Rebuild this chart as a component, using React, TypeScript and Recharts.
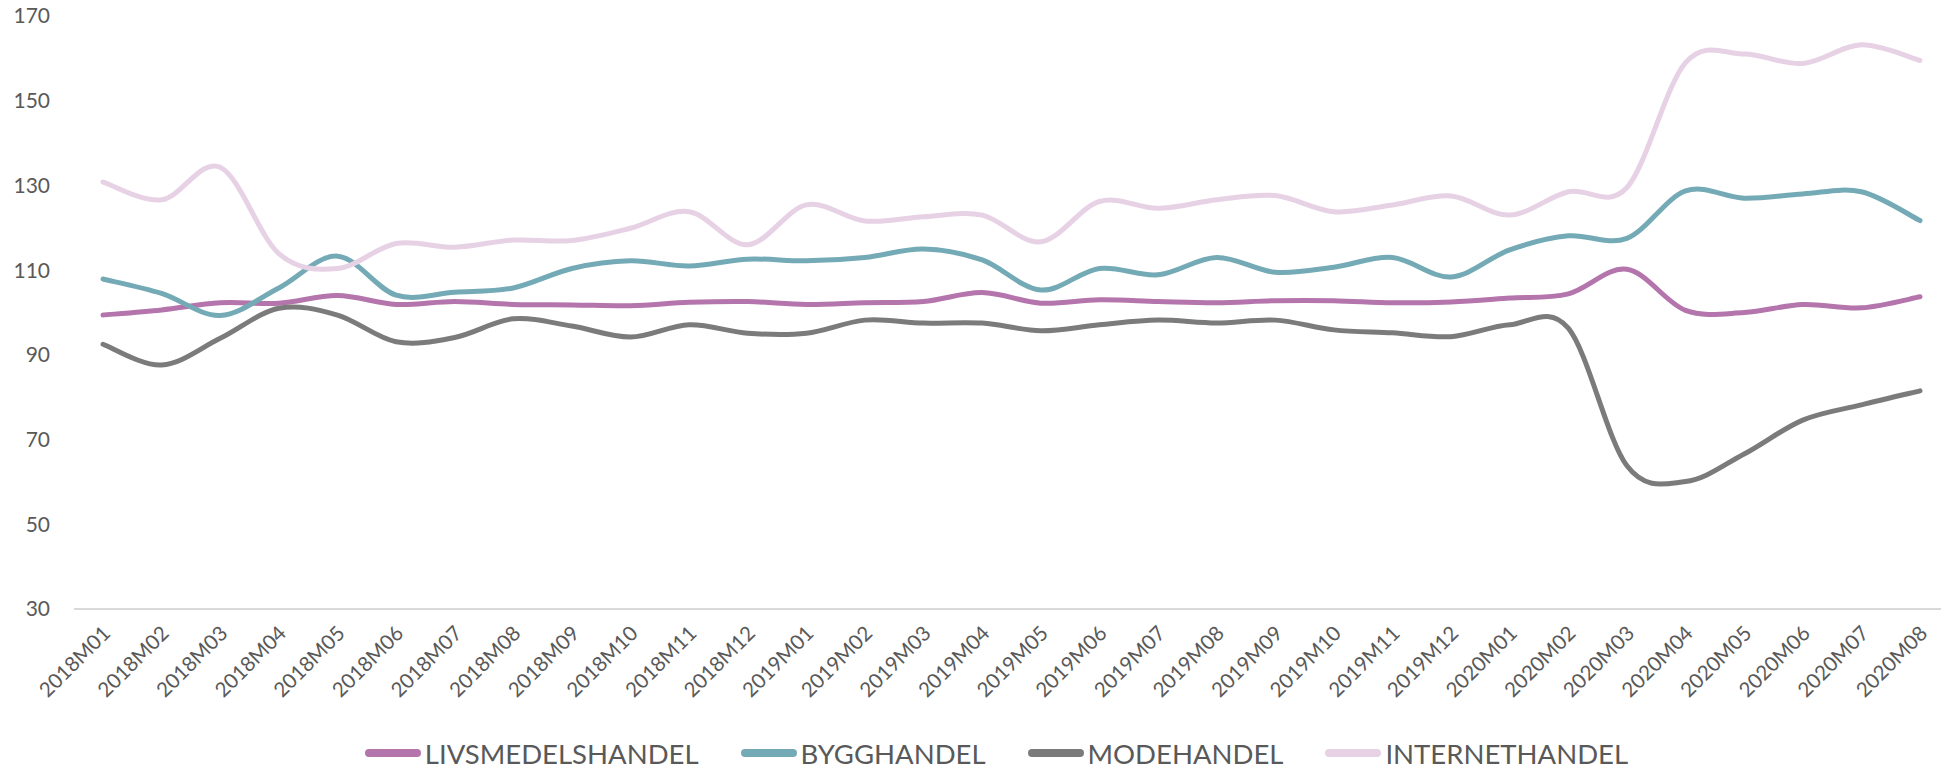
import React from 'react';
import { LineChart, Line, XAxis, YAxis, Legend } from 'recharts';

const months = [
  '2018M01', '2018M02', '2018M03', '2018M04', '2018M05', '2018M06', '2018M07', '2018M08',
  '2018M09', '2018M10', '2018M11', '2018M12', '2019M01', '2019M02', '2019M03', '2019M04',
  '2019M05', '2019M06', '2019M07', '2019M08', '2019M09', '2019M10', '2019M11', '2019M12',
  '2020M01', '2020M02', '2020M03', '2020M04', '2020M05', '2020M06', '2020M07', '2020M08',
];

const livsmedel = [
  99.4, 100.6, 102.3, 102.2, 104.0, 101.9, 102.6, 101.9, 101.8, 101.6, 102.4, 102.6,
  101.9, 102.3, 102.6, 104.7, 102.2, 103.0, 102.6, 102.3, 102.8, 102.8, 102.3, 102.5,
  103.4, 104.4, 110.2, 100.5, 100.0, 101.9, 101.1, 103.7,
];

const bygg = [
  107.9, 104.5, 99.3, 105.8, 113.3, 104.1, 104.8, 105.8, 110.4, 112.2, 111.0, 112.6,
  112.2, 113.0, 115.0, 112.4, 105.3, 110.4, 108.9, 113.0, 109.5, 110.7, 113.0, 108.4,
  114.8, 118.1, 117.5, 128.7, 127.0, 128.0, 128.5, 121.7,
];

const mode = [
  92.5, 87.6, 93.9, 101.0, 99.4, 93.1, 94.1, 98.5, 96.8, 94.2, 97.1, 95.1,
  95.1, 98.2, 97.5, 97.5, 95.7, 97.1, 98.2, 97.5, 98.2, 95.9, 95.2, 94.3,
  97.1, 96.3, 63.8, 60.1, 66.6, 74.6, 78.2, 81.5,
];

const internet = [
  130.8, 126.6, 134.3, 113.9, 110.4, 116.3, 115.4, 117.1, 117.0, 119.9, 123.8, 116.0,
  125.4, 121.6, 122.6, 123.0, 116.7, 126.2, 124.6, 126.6, 127.6, 123.8, 125.4, 127.5,
  123.0, 128.5, 129.5, 159.0, 161.0, 158.8, 163.2, 159.5,
];

const yTicks = [30, 50, 70, 90, 110, 130, 150, 170];

const series = [
  { key: 'livsmedel', name: 'LIVSMEDELSHANDEL' },
  { key: 'bygg', name: 'BYGGHANDEL' },
  { key: 'mode', name: 'MODEHANDEL' },
  { key: 'internet', name: 'INTERNETHANDEL' },
];

const colors: Record<string, string> = {
  livsmedel: '#B474AC',
  bygg: '#74AAB6',
  mode: '#7B7B7B',
  internet: '#E7D1E5',
};

const data = months.map((m, i) => ({
  month: m,
  livsmedel: livsmedel[i],
  bygg: bygg[i],
  mode: mode[i],
  internet: internet[i],
}));

const TEXT = '#595959';
const FONT = 'Lato, "Open Sans", sans-serif';

// excel-like smoothed line (catmull-rom style bezier)
function smoothCurve(context: any) {
  let pts: number[][] = [];
  return {
    areaStart() {},
    areaEnd() {},
    lineStart() {
      pts = [];
    },
    point(x: number, y: number) {
      pts.push([+x, +y]);
    },
    lineEnd() {
      if (!pts.length) return;
      context.moveTo(pts[0][0], pts[0][1]);
      for (let i = 0; i < pts.length - 1; i++) {
        const p0 = pts[i - 1] || pts[i];
        const p1 = pts[i];
        const p2 = pts[i + 1];
        const p3 = pts[i + 2] || p2;
        context.bezierCurveTo(
          p1[0] + (p2[0] - p0[0]) / 6,
          p1[1] + (p2[1] - p0[1]) / 6,
          p2[0] - (p3[0] - p1[0]) / 6,
          p2[1] - (p3[1] - p1[1]) / 6,
          p2[0],
          p2[1]
        );
      }
    },
  };
}

function MonthTick({ x, y, payload }: any) {
  const ax = x + 5;
  const ay = y + 22;
  return (
    <text
      x={ax}
      y={ay}
      transform={`rotate(-45, ${ax}, ${ay})`}
      textAnchor="end"
      dominantBaseline="middle"
      fill={TEXT}
      fontSize={20.5}
      fontFamily={FONT}
    >
      {payload.value}
    </text>
  );
}

function LegendRow() {
  return (
    <div
      style={{
        display: 'flex',
        justifyContent: 'center',
        alignItems: 'center',
        boxSizing: 'border-box',
        height: 50,
        paddingTop: 18,
        paddingLeft: 52,
        fontFamily: FONT,
        fontSize: 27.5,
        color: TEXT,
      }}
    >
      {series.map((s, i) => (
        <div key={s.key} style={{ display: 'flex', alignItems: 'center', marginLeft: i ? 42 : 0 }}>
          <span
            style={{
              display: 'inline-block',
              width: 56,
              height: 8,
              borderRadius: 4,
              background: colors[s.key],
              marginRight: 4,
            }}
          />
          <span>{s.name}</span>
        </div>
      ))}
    </div>
  );
}

export default function App() {
  return (
    <div style={{ width: 1941, height: 769, background: '#fff' }}>
      <style>{'body{margin:0}'}</style>
      <LineChart width={1941} height={769} data={data} margin={{ top: 16, right: 0, bottom: 0, left: 0 }}>
        <XAxis
          dataKey="month"
          interval={0}
          tick={<MonthTick />}
          tickLine={false}
          tickSize={0}
          tickMargin={0}
          axisLine={{ stroke: '#D9D9D9', strokeWidth: 2 }}
          height={110}
          padding={{ left: 29, right: 21 }}
        />
        <YAxis
          domain={[30, 170]}
          ticks={yTicks}
          interval={0}
          width={74}
          axisLine={false}
          tickLine={false}
          tickSize={0}
          tickMargin={24}
          tick={{ fill: TEXT, fontSize: 21, fontFamily: FONT }}
        />
        <Legend verticalAlign="bottom" height={50} content={<LegendRow />} />
        {series.map((s) => (
          <Line
            key={s.key}
            dataKey={s.key}
            name={s.name}
            type={smoothCurve as any}
            stroke={colors[s.key]}
            strokeWidth={5}
            strokeLinecap="round"
            dot={false}
            activeDot={false}
            isAnimationActive={false}
          />
        ))}
      </LineChart>
    </div>
  );
}
